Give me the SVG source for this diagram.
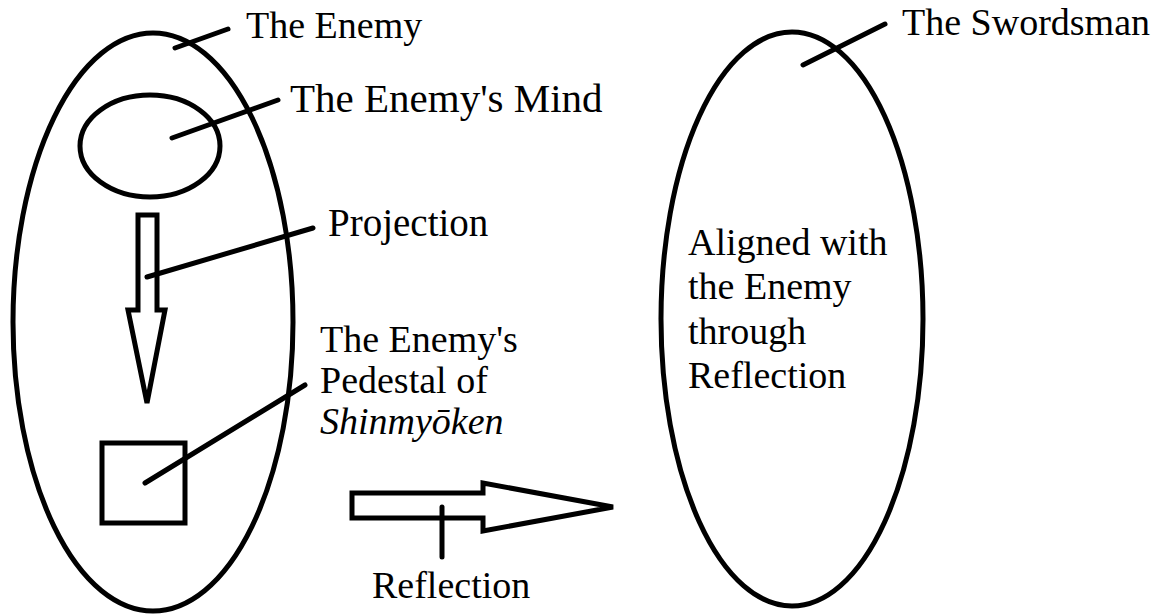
<svg xmlns="http://www.w3.org/2000/svg" width="1161" height="615" viewBox="0 0 1161 615">
<style>
.s{fill:none;stroke:#000;stroke-width:5;stroke-linejoin:miter}
.l{fill:none;stroke:#000;stroke-width:5;stroke-linecap:round}
</style>
<rect width="1161" height="615" fill="#fff"/>
<g font-family="Liberation Serif, DejaVu Serif, Times New Roman, serif" font-size="38" fill="#000">
<g id="enemy">
<ellipse class="s" cx="153" cy="322" rx="140" ry="289"/>
<text x="246" y="38">The Enemy</text>
</g>
<g id="enemy-mind">
<ellipse class="s" cx="150" cy="146" rx="70" ry="51"/>
<text x="290" y="112" font-size="41">The Enemy's Mind</text>
</g>
<g id="projection">
<polygon class="s" points="138,215 157,215 157,310 165,310 147,403 128,310 138,310"/>
<text x="328" y="236" font-size="39">Projection</text>
</g>
<g id="pedestal">
<rect class="s" x="102" y="443" width="83" height="80"/>
<text x="320" y="352">The Enemy's</text>
<text x="320" y="393">Pedestal of</text>
<text x="320" y="434" font-style="italic">Shinmyōken</text>
</g>
<g id="reflection">
<polygon class="s" points="352,493 483,493 483,483 613,507 483,531 483,518 352,518"/>
<text x="372" y="598">Reflection</text>
</g>
<g id="swordsman">
<ellipse class="s" cx="792" cy="319" rx="131" ry="287"/>
<text x="902" y="35">The Swordsman</text>
<text x="688" y="255">Aligned with</text>
<text x="688" y="299">the Enemy</text>
<text x="688" y="344">through</text>
<text x="688" y="388">Reflection</text>
</g>
</g>
<g id="connectors">
<line class="l" x1="175" y1="48" x2="228" y2="29"/>
<line class="l" x1="172" y1="138" x2="278" y2="100"/>
<line class="l" x1="147" y1="277" x2="313" y2="228"/>
<line class="l" x1="145" y1="483" x2="305" y2="385"/>
<line class="l" x1="442" y1="507" x2="442" y2="557"/>
<line class="l" x1="803" y1="65" x2="885" y2="24"/>
</g>
</svg>
